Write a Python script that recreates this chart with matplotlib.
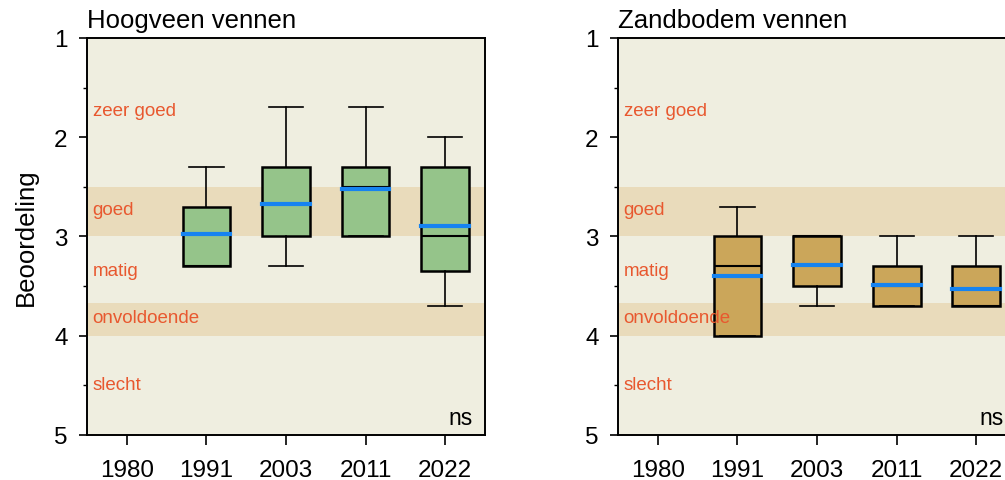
import matplotlib

matplotlib.use("Agg")
import matplotlib.pyplot as plt

plt.rcParams["font.family"] = ["Liberation Sans", "DejaVu Sans"]

YEARS = ["1980", "1991", "2003", "2011", "2022"]
CLASS_LABELS = ["zeer goed", "goed", "matig", "onvoldoende", "slecht"]
CLASS_LABEL_Y = [1.73, 2.73, 3.34, 3.82, 4.49]
BANDS = [(2.5, 3.0), (3.67, 4.0)]

# per panel: box statistics for 1991, 2003, 2011, 2022 (1980 has no data)
HOOGVEEN_WHISLO = [2.3, 1.7, 1.7, 2.0]
HOOGVEEN_Q1 = [2.7, 2.3, 2.3, 2.3]
HOOGVEEN_MED = [3.3, 2.67, 2.5, 3.0]
HOOGVEEN_Q3 = [3.3, 3.0, 3.0, 3.35]
HOOGVEEN_WHISHI = [3.3, 3.3, 3.0, 3.7]
HOOGVEEN_MEAN = [2.98, 2.67, 2.52, 2.89]

ZAND_WHISLO = [2.7, 3.0, 3.0, 3.0]
ZAND_Q1 = [3.0, 3.0, 3.3, 3.3]
ZAND_MED = [3.3, 3.0, 3.5, 3.7]
ZAND_Q3 = [4.0, 3.5, 3.7, 3.7]
ZAND_WHISHI = [4.0, 3.7, 3.7, 3.7]
ZAND_MEAN = [3.4, 3.29, 3.49, 3.53]

BG_COLOR = "#efeee0"
BAND_COLOR = "#e9dbbb"
LABEL_COLOR = "#e8582f"
MEAN_COLOR = "#1683f0"


def make_stats(whislo, q1, med, q3, whishi, mean):
    return [
        dict(whislo=a, q1=b, med=c, q3=d, whishi=e, mean=f, fliers=[])
        for a, b, c, d, e, f in zip(whislo, q1, med, q3, whishi, mean)
    ]


def draw_panel(ax, title, stats, box_color, ylabel=None):
    ax.set_facecolor(BG_COLOR)
    for lo, hi in BANDS:
        ax.axhspan(lo, hi, color=BAND_COLOR, lw=0, zorder=0)

    ax.bxp(
        stats,
        positions=range(1, len(YEARS)),
        widths=0.6,
        capwidths=0.43,
        patch_artist=True,
        showmeans=True,
        meanline=True,
        showfliers=False,
        boxprops=dict(facecolor=box_color, edgecolor="black", linewidth=1.8),
        medianprops=dict(color="black", linewidth=1.5),
        whiskerprops=dict(color="black", linewidth=1.2),
        capprops=dict(color="black", linewidth=1.2),
        meanprops=dict(color=MEAN_COLOR, linewidth=3, linestyle="-",
                       solid_capstyle="projecting"),
        zorder=3,
    )

    for label, y in zip(CLASS_LABELS, CLASS_LABEL_Y):
        ax.text(-0.43, y, label, color=LABEL_COLOR, fontsize=13.5,
                ha="left", va="center")
    ax.text(4.34, 4.82, "ns", fontsize=16.5, ha="right", va="center")

    ax.set_xlim(-0.5, 4.5)
    ax.set_ylim(5, 1)
    ax.set_xticks(range(len(YEARS)))
    ax.set_xticklabels(YEARS)
    ax.set_yticks([1, 2, 3, 4, 5])
    ax.set_yticks([1.5, 2.5, 3.5, 4.5], minor=True)
    ax.tick_params(axis="x", length=7, width=1.2, pad=10, labelsize=17.5)
    ax.tick_params(axis="y", which="major", length=6, width=1.2, pad=8,
                   labelsize=17.5)
    ax.tick_params(axis="y", which="minor", length=3, width=1)
    for spine in ax.spines.values():
        spine.set_linewidth(1.4)
    ax.set_title(title, loc="left", fontsize=18.5, pad=8)
    if ylabel:
        ax.set_ylabel(ylabel, fontsize=18.5, labelpad=12)


fig = plt.figure(figsize=(10.05, 4.81), dpi=100)
ax1 = fig.add_axes([0.0866, 0.0936, 0.396, 0.8254])
ax2 = fig.add_axes([0.615, 0.0936, 0.396, 0.8254])

draw_panel(ax1, "Hoogveen vennen",
           make_stats(HOOGVEEN_WHISLO, HOOGVEEN_Q1, HOOGVEEN_MED,
                      HOOGVEEN_Q3, HOOGVEEN_WHISHI, HOOGVEEN_MEAN),
           "#95c48a", ylabel="Beoordeling")
draw_panel(ax2, "Zandbodem vennen",
           make_stats(ZAND_WHISLO, ZAND_Q1, ZAND_MED,
                      ZAND_Q3, ZAND_WHISHI, ZAND_MEAN),
           "#cba65a")

fig.savefig("out.png", dpi=100)
